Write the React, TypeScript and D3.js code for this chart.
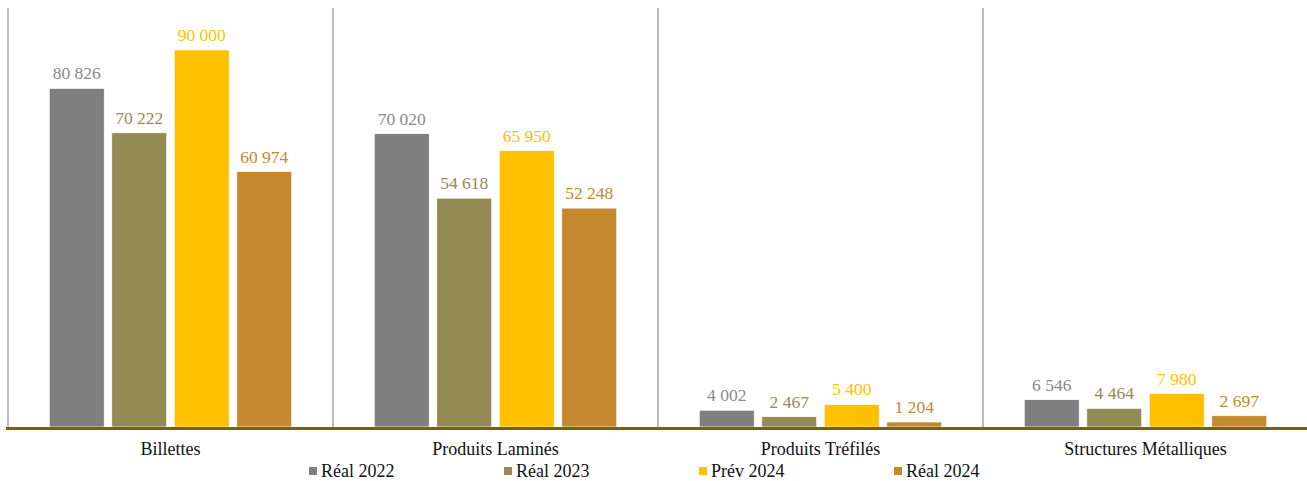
import React from "react";
import * as d3 from "d3";

const categories = ["Billettes", "Produits Laminés", "Produits Tréfilés", "Structures Métalliques"];
const seriesNames = ["Réal 2022", "Réal 2023", "Prév 2024", "Réal 2024"];
const real2022 = [80826, 70020, 4002, 6546];
const real2023 = [70222, 54618, 2467, 4464];
const prev2024 = [90000, 65950, 5400, 7980];
const real2024 = [60974, 52248, 1204, 2697];
const seriesValues = [real2022, real2023, prev2024, real2024];
const colors = ["#7F7F7F", "#948A54", "#FFC000", "#C4882F"];
const labelColors = ["#8A8A8A", "#948A54", "#FFC000", "#C4882F"];

const W = 1307;
const H = 481;
const FONT = "'Times New Roman', 'Liberation Serif', 'DejaVu Serif'";

const fmt = (v: number) => {
  const s = String(v);
  return s.replace(/\B(?=(\d{3})+(?!\d))/g, " ");
};

export default function App() {
  const x0 = d3.scaleBand<string>().domain(categories).range([8, 1308]).paddingInner(0).paddingOuter(0);
  const x1 = d3
    .scaleBand<string>()
    .domain(seriesNames)
    .range([0, x0.bandwidth()])
    .paddingInner(0.12)
    .paddingOuter(0.66);
  const y = d3.scaleLinear().domain([0, 100000]).range([427, 8]);

  const legendX = [309, 504, 699, 894];

  return (
    <svg
      width={W}
      height={H}
      style={{ position: "absolute", left: 0, top: 0, background: "#fff" }}
    >
      {categories.map((c) => (
        <line
          key={"v" + c}
          x1={x0(c)!}
          x2={x0(c)!}
          y1={8}
          y2={427}
          stroke="#A6A6A6"
          strokeWidth={1.5}
        />
      ))}
      {categories.map((c, ci) => (
        <g key={c} transform={`translate(${x0(c)},0)`}>
          {seriesNames.map((s, si) => {
            const v = seriesValues[si][ci];
            const bx = x1(s)!;
            const bw = x1.bandwidth();
            return (
              <g key={s}>
                <rect
                  x={bx}
                  y={y(v)}
                  width={bw}
                  height={y(0) - y(v)}
                  fill={colors[si]}
                  stroke="#fff"
                  strokeWidth={0.75}
                />
                <text
                  x={bx + bw / 2}
                  y={y(v) - 9}
                  textAnchor="middle"
                  fontSize={17.5}
                  fill={labelColors[si]}
                  fontFamily={FONT}
                >
                  {fmt(v)}
                </text>
              </g>
            );
          })}
          <text
            x={x0.bandwidth() / 2}
            y={455}
            textAnchor="middle"
            fontSize={18}
            fill="#111"
            fontFamily={FONT}
          >
            {c}
          </text>
        </g>
      ))}
      <line x1={6} x2={1307} y1={428.5} y2={428.5} stroke="#7F6000" strokeWidth={3} />
      {seriesNames.map((s, si) => (
        <g key={"l" + s} transform={`translate(${legendX[si]},0)`}>
          <rect x={0} y={467} width={8} height={8} fill={colors[si]} />
          <text x={12} y={477} fontSize={18} fill="#111" fontFamily={FONT}>
            {s}
          </text>
        </g>
      ))}
    </svg>
  );
}
